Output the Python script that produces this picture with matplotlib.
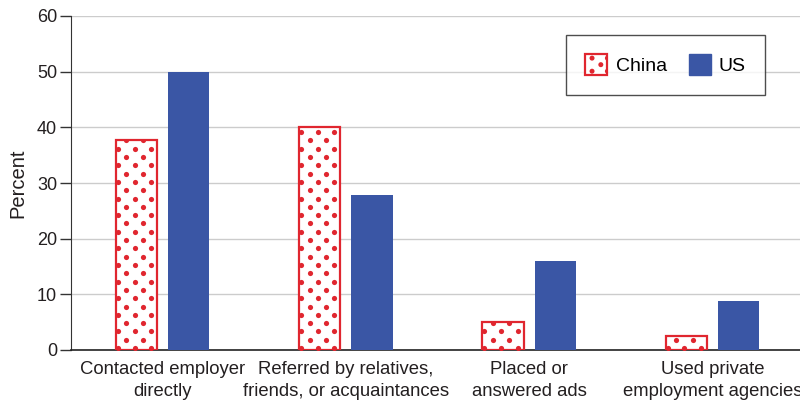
import numpy as np
import matplotlib.pyplot as plt
from matplotlib.patches import Patch, Rectangle, Circle
from matplotlib.legend_handler import HandlerBase

plt.rcParams['font.family'] = ['Liberation Sans', 'DejaVu Sans']

categories = ['Contacted employer\ndirectly',
              'Referred by relatives,\nfriends, or acquaintances',
              'Placed or\nanswered ads',
              'Used private\nemployment agencies']
china = [37.7, 40.0, 5.0, 2.5]
us = [50.0, 27.8, 16.0, 8.8]
yticks = [0, 10, 20, 30, 40, 50, 60]

red = '#e0262f'
blue = '#3a56a5'
text_col = '#231f20'

DX, DY, DOT = 16.6, 8.3, 14


def dot_grid(x0, y0, x1, y1):
    # staggered dot lattice inside a pixel box
    pts = []
    row = 0
    yy = y0 + 2
    while yy < y1 + 4:
        xx = x0 + 2 + (DX / 2 if row % 2 else 0)
        while xx < x1 + 4:
            pts.append((xx, yy))
            xx += DX
        yy += DY
        row += 1
    return np.array(pts)


class DottedHandler(HandlerBase):
    def create_artists(self, legend, orig, xd, yd, width, height, fontsize, trans):
        rect = Rectangle((-xd, -yd), width, height, facecolor='white',
                         edgecolor=red, linewidth=1.6, transform=trans)
        arts = [rect]
        for px, py in [(0.3, 0.82), (0.7, 0.5), (0.3, 0.18), (1.0, 0.18), (1.0, 0.82)]:
            c = Circle((-xd + px * width, -yd + py * height), 1.8,
                       facecolor=red, edgecolor='none', transform=trans)
            c.set_clip_path(rect)
            arts.append(c)
        return arts


fig = plt.figure(figsize=(8, 4.03), dpi=100)
ax = fig.add_axes([71 / 800, 53 / 403, 733 / 800, 334 / 403])

x = np.arange(len(categories))
w = 0.225
off = 0.142

ax.set_xlim(-0.5, 3.5)
ax.set_ylim(0, 60)

cbars = ax.bar(x - off, china, w, color='white', edgecolor=red, linewidth=1.6, zorder=3)
ax.bar(x + off, us, w, color=blue, zorder=3)

fig.canvas.draw()
to_data = ax.transData.inverted()
for rect in cbars:
    (x0, y0), (x1, y1) = ax.transData.transform([(rect.get_x(), 0),
                                                 (rect.get_x() + rect.get_width(), rect.get_height())])
    pts = to_data.transform(dot_grid(x0, y0, x1, y1))
    dots = ax.scatter(pts[:, 0], pts[:, 1], s=DOT, color=red, linewidths=0, zorder=4)
    dots.set_clip_path(rect)

ax.set_yticks(yticks)
ax.set_xticks(x)
ax.set_xticklabels(categories, fontsize=13.3, color=text_col, linespacing=1.38)
ax.tick_params(axis='x', length=0, pad=8)
ax.tick_params(axis='y', length=8, width=1, color='#333333', labelsize=13,
               labelcolor=text_col, pad=2)
ax.yaxis.grid(True, color='#cccccc', linewidth=1, zorder=0)
ax.set_axisbelow(True)
for s in ['top', 'right']:
    ax.spines[s].set_visible(False)
ax.spines['left'].set_color('#333333')
ax.spines['bottom'].set_color('#222222')
ax.spines['bottom'].set_linewidth(1.2)
ax.set_ylabel('Percent', fontsize=14.5, color=text_col, labelpad=7)

handles = [Patch(facecolor='white', edgecolor=red), Patch(facecolor=blue, edgecolor=blue)]
leg = ax.legend(handles, ['China', 'US'], loc='upper left',
                handler_map={handles[0]: DottedHandler()},
                bbox_to_anchor=(566 / 800, 1 - 35 / 403), bbox_transform=fig.transFigure,
                ncol=2, fontsize=14, frameon=True, fancybox=False,
                handlelength=1.13, handleheight=1.24, handletextpad=0.42,
                columnspacing=1.13, borderpad=1.0, borderaxespad=0)
leg.get_frame().set_edgecolor('#222222')
leg.get_frame().set_linewidth(1.0)

fig.savefig('out.png', dpi=100)
